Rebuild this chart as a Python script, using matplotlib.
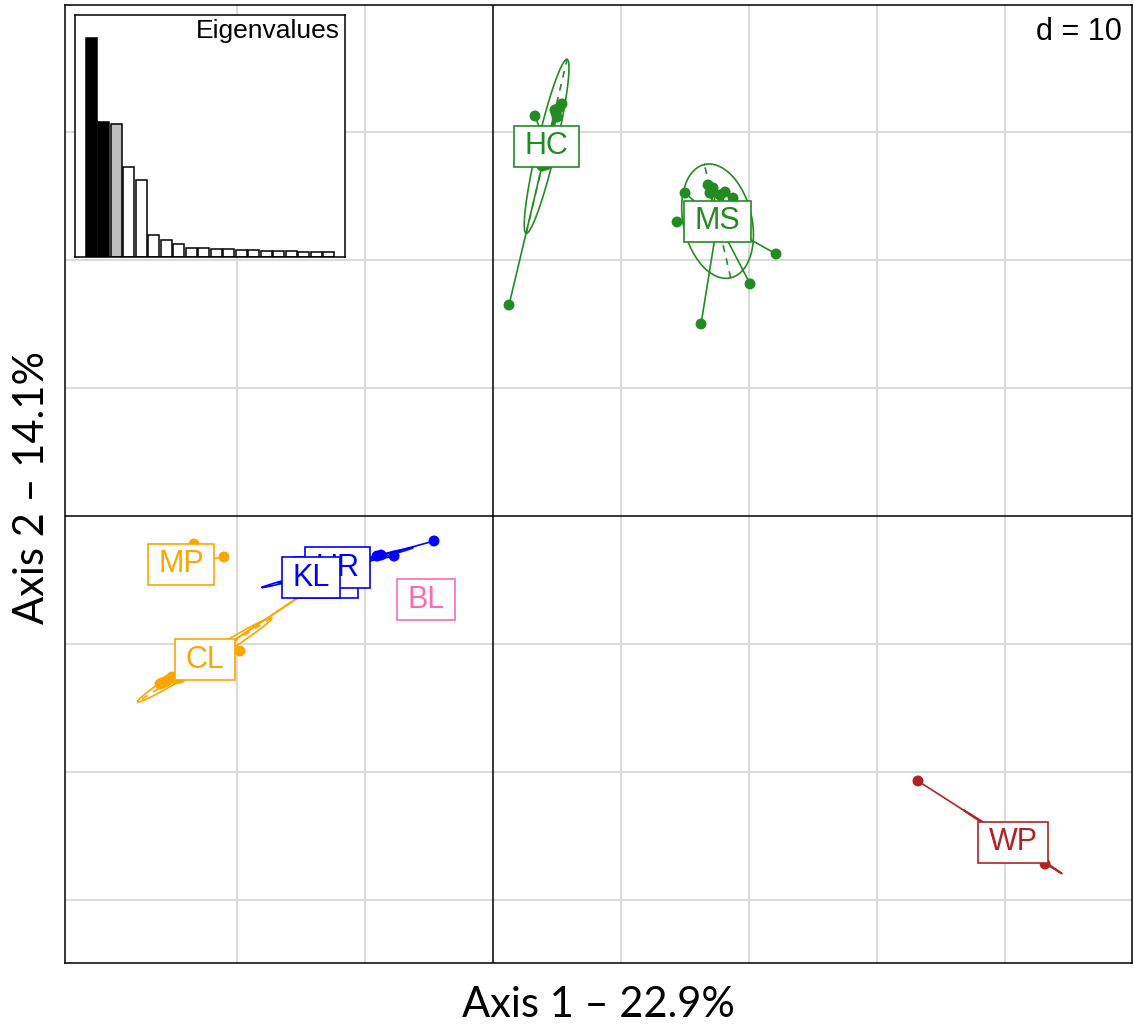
import numpy as np
import matplotlib.pyplot as plt
from matplotlib.path import Path

# ── Data: individual scores on axis 1 / axis 2, per population ───────
groups = ["HC", "MS", "MP", "CL", "KR", "UR", "KL", "BL", "WP"]
colors = ["forestgreen", "forestgreen", "orange", "orange",
          "blue", "blue", "blue", "hotpink", "firebrick"]

hc_x = [3.28, 1.25, 4.92, 5.16, 5.39, 5.00, 4.84, 4.06, 3.83, 4.14]
hc_y = [31.25, 16.48, 31.48, 31.88, 32.19, 31.17, 31.72, 27.81, 27.34, 27.42]

ms_x = [15.00, 14.38, 16.80, 17.19, 18.13, 18.75, 16.95, 17.73,
        22.11, 20.08, 16.25, 16.17, 17.73, 18.91, 16.95]
ms_y = [25.23, 22.97, 25.86, 25.63, 25.31, 24.84, 25.23, 25.08,
        20.47, 18.13, 15.00, 23.52, 22.73, 23.13, 22.34]

mp_x = [-23.36, -21.02, -25.63, -25.39, -25.55, -25.31]
mp_y = [-2.19, -3.20, -4.22, -4.38, -4.14, -4.38]

cl_x = [-26.02, -25.63, -25.39, -25.08, -24.77, -24.45, -25.86, -19.77, -14.61, -14.30,
        -23.05, -22.73, -22.50, -22.27, -22.03, -21.80]
cl_y = [-13.13, -12.97, -12.81, -12.58, -12.73, -12.66, -13.05, -10.55, -5.94, -5.78,
        -11.56, -11.41, -11.33, -11.17, -11.09, -10.94]

kr_x = [-13.52, -12.58, -13.05]
kr_y = [-5.00, -4.69, -4.84]

ur_x = [-4.61, -7.73, -8.75, -9.06, -15.70, -15.39, -15.23, -15.08, -15.00, -14.92]
ur_y = [-1.95, -3.13, -3.05, -3.13, -5.00, -4.92, -4.84, -4.77, -4.77, -4.69]

kl_x = [-15.08, -13.91, -13.52, -14.30]
kl_y = [-5.16, -4.84, -4.61, -4.69]

bl_x = [-5.55, -4.92]
bl_y = [-6.48, -6.64]

wp_x = [33.20, 43.13, 40.78, 41.02, 41.17, 41.33, 41.48, 41.09, 41.64, 41.41]
wp_y = [-20.70, -27.19, -25.55, -25.70, -25.78, -25.94, -25.94, -25.78, -26.09, -26.02]

xs = [hc_x, ms_x, mp_x, cl_x, kr_x, ur_x, kl_x, bl_x, wp_x]
ys = [hc_y, ms_y, mp_y, cl_y, kr_y, ur_y, kl_y, bl_y, wp_y]

# eigenvalues (% of variance) for the inset
eig = [22.9, 14.1, 13.9, 9.4, 8.0, 2.3, 1.8, 1.3, 0.94, 0.88,
       0.84, 0.77, 0.70, 0.67, 0.63, 0.60, 0.55, 0.52, 0.49, 0.46]
eig_cols = ["black", "black", "#BEBEBE"] + ["white"] * 17

grid_x = [-20, -10, 10, 20, 30, 40]
grid_y = [-30, -20, -10, 10, 20, 30]


# label frame: wider padding left/right than top/bottom
def label_box(x0, y0, width, height, mutation_size):
    px = 0.34 * mutation_size
    py = 0.18 * mutation_size
    x0, y0 = x0 - px, y0 - py
    x1, y1 = x0 + width + 2*px, y0 + height + 2*py
    return Path([(x0, y0), (x1, y0), (x1, y1), (x0, y1), (x0, y0)], closed=True)


# ── Figure ────────────────────────────────────────────────────────────
fig = plt.figure(figsize=(11.34, 10.30), dpi=100)
ax = fig.add_axes([65/1134, 1-963/1030, 1067/1134, 958/1030])
ax.set_xlim(-33.44, 49.92)
ax.set_ylim(-34.92, 39.92)
ax.set_xticks([])
ax.set_yticks([])
for s in ax.spines.values():
    s.set_linewidth(1.1)

for g in grid_x:
    ax.axvline(g, color="#D9D9D9", lw=1.4, zorder=0)
for g in grid_y:
    ax.axhline(g, color="#D9D9D9", lw=1.4, zorder=0)
ax.axvline(0, color="black", lw=1.1, zorder=1)
ax.axhline(0, color="black", lw=1.1, zorder=1)

coef = 1.5
t = np.linspace(0, 2*np.pi, 200)
for i, (name, col) in enumerate(zip(groups, colors)):
    x = np.array(xs[i]); y = np.array(ys[i])
    mx, my = x.mean(), y.mean()
    # star: centroid to each individual
    for xi, yi in zip(x, y):
        ax.plot([mx, xi], [my, yi], color=col, lw=1.2, zorder=3)
    # ellipse from covariance
    if len(x) > 2:
        cov = np.cov(x, y, bias=True)
        vals, vecs = np.linalg.eigh(cov)
        vals = np.clip(vals, 0, None)
        a1 = coef*np.sqrt(vals[1]) * vecs[:, 1]
        a2 = coef*np.sqrt(vals[0]) * vecs[:, 0]
        ex = mx + a1[0]*np.cos(t) + a2[0]*np.sin(t)
        ey = my + a1[1]*np.cos(t) + a2[1]*np.sin(t)
        ax.plot(ex, ey, color=col, lw=1.2, zorder=3)
        for a in (a1, a2):
            ax.plot([mx-a[0], mx+a[0]], [my-a[1], my+a[1]], color=col,
                    lw=1.2, ls=(0, (4, 4)), zorder=3)
    ax.scatter(x, y, s=62, color=col, edgecolors="none", zorder=4)

for i, (name, col) in enumerate(zip(groups, colors)):
    mx, my = np.mean(xs[i]), np.mean(ys[i])
    ax.text(mx, my, name, color=col, fontsize=22,
            family="Liberation Sans", ha="center", va="center",
            zorder=10+i,
            bbox=dict(boxstyle=label_box, fc="white", ec=col, lw=1.2))

ax.text(0.9906, 0.987, "d = 10", transform=ax.transAxes, ha="right", va="top",
        fontsize=22, family="Liberation Sans")

# axis titles
fig.text(598/1134, 1-1005/1030, "Axis 1 \u2013 22.9%", ha="center", va="center",
         fontsize=30, family="Lato")
fig.text(32/1134, 1-487/1030, "Axis 2 \u2013 14.1%", ha="center", va="center",
         fontsize=30, family="Lato", rotation=90)

# ── Inset: eigenvalues ───────────────────────────────────────────────
ins = fig.add_axes([75/1134, 1-256.7/1030, 270/1134, 241.7/1030])
ins.bar(np.arange(len(eig)), eig, width=0.9, color=eig_cols,
        edgecolor="black", linewidth=1.1)
ins.set_xlim(-1.3, 20.3)
ins.set_ylim(0, 25.3)
ins.set_xticks([])
ins.set_yticks([])
for s in ins.spines.values():
    s.set_linewidth(1.1)
ins.text(1-5/270, 1-4/241.7, "Eigenvalues", transform=ins.transAxes,
         ha="right", va="top", fontsize=19, family="Liberation Sans")

plt.savefig("out.png", dpi=100)
